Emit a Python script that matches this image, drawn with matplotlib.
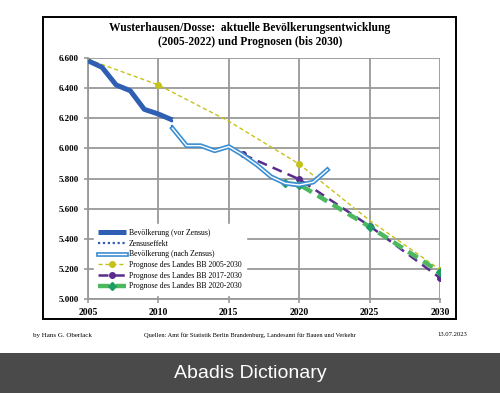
import matplotlib.pyplot as plt
import matplotlib.patheffects as pe
from matplotlib.patches import Rectangle
from matplotlib.ticker import FuncFormatter

# Bevoelkerung vor Zensus
years_pre = [2005, 2006, 2007, 2008, 2009, 2010, 2011]
pop_pre = [6582, 6538, 6421, 6383, 6259, 6228, 6188]

# Zensuseffekt 2011
years_census = [2011, 2011]
pop_census = [6188, 6133]

# Bevoelkerung nach Zensus
years_post = [2011, 2012, 2013, 2014, 2015, 2016, 2017, 2018, 2019, 2020, 2021, 2022]
pop_post = [6133, 6018, 6018, 5984, 6012, 5956, 5890, 5812, 5768, 5757, 5776, 5858]

# Prognosen
years_p05 = [2005, 2010, 2015, 2020, 2025, 2030]
pop_p05 = [6591, 6421, 6180, 5896, 5522, 5195]

years_p17 = [2016, 2020, 2025, 2030]
pop_p17 = [5960, 5795, 5485, 5140]

years_p20 = [2019, 2020, 2025, 2030]
pop_p20 = [5768, 5760, 5480, 5178]

serif = ["Liberation Serif", "DejaVu Serif"]
plt.rcParams["font.family"] = serif

fig = plt.figure(figsize=(5, 3.93), dpi=100)
ax = fig.add_axes([0.176, 0.2392, 0.704, 0.6132])

ax.plot(years_pre, pop_pre, color="#2f5fb3", lw=3.6, solid_capstyle="butt",
        label="Bevölkerung (vor Zensus)", zorder=5)
ax.plot(years_census, pop_census, color="#2f5fb3", lw=1.6, ls=(0, (1, 1.2)),
        label="Zensuseffekt", zorder=5)
ax.plot(years_post, pop_post, color="white", lw=1.0, zorder=6,
        path_effects=[pe.Stroke(linewidth=3.4, foreground="#3c8fd2"), pe.Normal()],
        label="Bevölkerung (nach Zensus)")
ax.plot(years_p05, pop_p05, color="#c6c21c", lw=1.0, ls=(0, (3, 2)),
        marker="o", ms=4, markevery=[1, 3, 5], zorder=3,
        label="Prognose des Landes BB 2005-2030")
ax.plot(years_p17, pop_p17, color="#5a2d8c", lw=1.8, ls=(0, (4, 2.5)),
        marker="o", ms=4, zorder=4,
        label="Prognose des Landes BB 2017-2030")
ax.plot(years_p20, pop_p20, color="#4cb860", lw=3.2, ls=(0, (2.5, 1.5)),
        marker="D", ms=4.5, mfc="#1f9e63", mec="#1f9e63", zorder=4,
        label="Prognose des Landes BB 2020-2030")

ax.set_xlim(2005, 2030)
ax.set_ylim(5000, 6600)
ax.set_xticks([2005, 2010, 2015, 2020, 2025, 2030])
ax.set_yticks(range(5000, 6601, 200))
ax.yaxis.set_major_formatter(FuncFormatter(lambda v, p: f"{v:,.0f}".replace(",", ".")))
ax.grid(color="#999999", lw=1.3)
ax.set_axisbelow(True)
for s in ["top", "right"]:
    ax.spines[s].set_visible(False)
for s in ["left", "bottom"]:
    ax.spines[s].set_color("#999999")
    ax.spines[s].set_linewidth(1.3)
ax.tick_params(colors="#999999", length=3, width=1.2, labelcolor="black")
for t in ax.get_xticklabels():
    t.set_fontsize(7)
    t.set_fontweight("bold")
for t in ax.get_yticklabels():
    t.set_fontsize(6.5)
    t.set_fontweight("bold")

leg = ax.legend(loc="lower left", bbox_to_anchor=(0.005, 0.0), fontsize=5.6,
                frameon=True, framealpha=1, edgecolor="white", fancybox=False,
                handlelength=3.6, labelspacing=0.35, borderpad=0.6, handletextpad=0.3)

fig.text(0.5, 0.945, "Wusterhausen/Dosse:  aktuelle Bevölkerungsentwicklung\n"
         "(2005-2022) und Prognosen (bis 2030)", ha="center", va="top",
         fontsize=8.3, fontweight="bold", linespacing=1.25)

# Rahmen
fig.add_artist(Rectangle((43 / 500, 1 - 319 / 393), 413 / 500, 302 / 393,
                         transform=fig.transFigure, fill=False, ec="black", lw=1.4))

fig.text(33 / 500, 1 - 335 / 393, "by Hans G. Oberlack", fontsize=5.0, va="center")
fig.text(0.5, 1 - 335 / 393,
         "Quellen: Amt für Statistik Berlin Brandenburg, Landesamt für Bauen und Verkehr",
         fontsize=4.6, va="center", ha="center")
fig.text(467 / 500, 1 - 335 / 393, "13.07.2023", fontsize=4.8, va="center", ha="right")

fig.add_artist(Rectangle((0, 0), 1, 40 / 393, transform=fig.transFigure,
                         color="#4a4a4a", lw=0))
fig.text(0.5, 20 / 393, "Abadis Dictionary", color="white", fontsize=14,
         ha="center", va="center", family=["Liberation Sans", "DejaVu Sans"])

fig.savefig("out.png", dpi=100)
